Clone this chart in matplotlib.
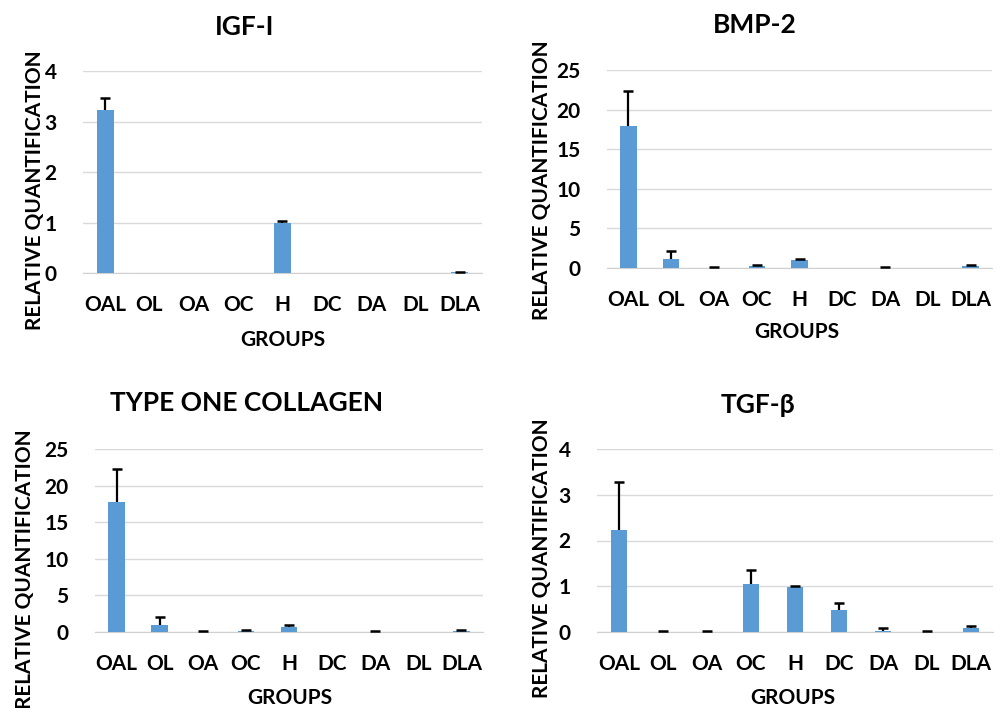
import numpy as np
import matplotlib.pyplot as plt

plt.rcParams['font.family'] = ['Lato', 'DejaVu Sans']
plt.rcParams['font.weight'] = 'bold'

groups = ['OAL', 'OL', 'OA', 'OC', 'H', 'DC', 'DA', 'DL', 'DLA']

# mean values and upper error
igf_mean = [3.22, 0, 0, 0, 1.0, 0, 0, 0, 0.01]
igf_err = [0.25, 0, 0, 0, 0.02, 0, 0, 0, 0.01]

bmp_mean = [17.9, 1.15, 0.05, 0.2, 0.95, 0, 0.05, 0, 0.2]
bmp_err = [4.5, 1.05, 0.08, 0.12, 0.15, 0, 0.08, 0, 0.12]

col_mean = [17.7, 1.0, 0.05, 0.1, 0.75, 0, 0.05, 0, 0.15]
col_err = [4.5, 1.1, 0.08, 0.12, 0.15, 0, 0.08, 0, 0.12]

tgf_mean = [2.23, 0.01, 0.01, 1.05, 0.98, 0.49, 0.03, 0.01, 0.09]
tgf_err = [1.04, 0.01, 0.01, 0.31, 0.02, 0.14, 0.06, 0.01, 0.05]

titles = ['IGF-I', 'BMP-2', 'TYPE ONE COLLAGEN', 'TGF-β']
means = [igf_mean, bmp_mean, col_mean, tgf_mean]
errs = [igf_err, bmp_err, col_err, tgf_err]
ymax = [4, 25, 25, 4]
ystep = [1, 5, 5, 1]

# axes rectangles in pixels: left, right, top, bottom
boxes = [(83, 482, 71, 273), (607, 992, 70, 268),
         (95, 483, 449, 632), (597, 993, 449, 632)]
title_pos = [(245, 27), (755, 25), (247, 403), (758, 405)]
ylab_pos = [(35, 190), (542, 180), (25, 569), (542, 558)]
xlab_pos = [(283, 340), (797, 332), (290, 698), (793, 698)]

W, H = 1002, 708
fig = plt.figure(figsize=(W / 100, H / 100), dpi=100)

bar_color = '#5B9BD5'
x = np.arange(len(groups))

for i in range(4):
    l, r, t, b = boxes[i]
    ax = fig.add_axes([l / W, 1 - b / H, (r - l) / W, (b - t) / H])
    m = np.array(means[i])
    e = np.array(errs[i])
    ax.bar(x, m, width=0.38, color=bar_color, zorder=3)
    # only the upper half of each error bar, skip the empty groups
    keep = e > 0
    ax.vlines(x[keep], m[keep], m[keep] + e[keep], color='black',
              linewidth=1.6, zorder=4)
    ax.plot(x[keep], m[keep] + e[keep], linestyle='none', marker='_',
            markersize=7, markeredgewidth=1.8, color='black', zorder=4)
    ax.set_xlim(-0.5, len(groups) - 0.5)
    ax.set_ylim(0, ymax[i])
    ax.set_yticks(np.arange(0, ymax[i] + 0.1, ystep[i]))
    ax.set_xticks(x)
    ax.set_xticklabels(groups)
    ax.tick_params(length=0, labelsize=15)
    ax.tick_params(axis='y', pad=19)
    ax.tick_params(axis='x', pad=16)
    ax.grid(axis='y', color='#D9D9D9', linewidth=1, zorder=0)
    for s in ['top', 'right', 'left']:
        ax.spines[s].set_visible(False)
    ax.spines['bottom'].set_color('#D0D0D0')
    ax.set_axisbelow(True)

    tx, ty = title_pos[i]
    fig.text(tx / W, 1 - ty / H, titles[i], ha='center', va='center',
             fontsize=19, fontweight='bold')
    yx, yy = ylab_pos[i]
    fig.text(yx / W, 1 - yy / H, 'RELATIVE QUANTIFICATION', rotation=90,
             ha='center', va='center', fontsize=15, fontweight='bold')
    gx, gy = xlab_pos[i]
    fig.text(gx / W, 1 - gy / H, 'GROUPS', ha='center', va='center',
             fontsize=15, fontweight='bold')

fig.savefig('out.png', dpi=100)
